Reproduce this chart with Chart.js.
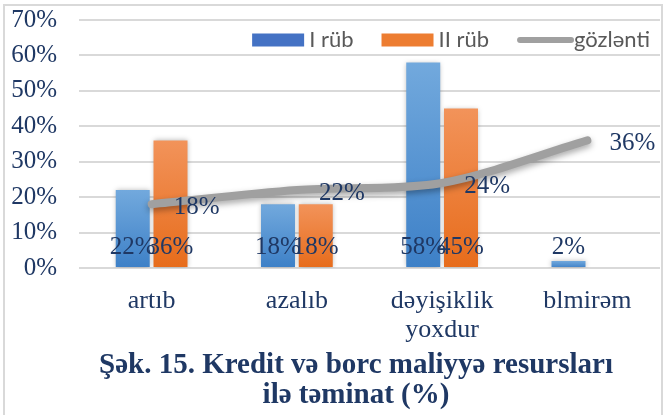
<!DOCTYPE html>
<html>
<head>
<meta charset="utf-8">
<script src="https://cdn.jsdelivr.net/npm/chart.js@4.4.1/dist/chart.umd.min.js"></script>
<style>
  html, body { margin: 0; padding: 0; background: #fff; }
  #wrap { position: relative; width: 670px; height: 415px; overflow: hidden; }
  #frame { position: absolute; left: 3px; top: 4px; width: 660px; height: 440px; border: 2px solid #d9d9d9; box-sizing: border-box; }
  #chart { position: absolute; left: 0; top: 0; }
  #title { position: absolute; left: 40px; width: 632px; top: 348px; text-align: center;
           font: bold 29px "Liberation Serif", serif; line-height: 30px; color: #1f3864; }
</style>
</head>
<body>
<div id="wrap">
  <div id="frame"></div>
  <canvas id="chart" width="670" height="350"></canvas>
  <div id="title">Şək. 15. Kredit və borc maliyyə resursları<br>ilə təminat (%)</div>
</div>
<script>
// data
const categories = ['artıb', 'azalıb', ['dəyişiklik', 'yoxdur'], 'blmirəm'];
const seriesNames = ['I rüb', 'II rüb', 'gözlənti'];
const q1Values = [22, 18, 58, 2];
const q2Values = [36, 18, 45, null];
const expectedValues = [18, 22, 24, 36];
const yMax = 70;
const yStep = 10;

const navy = '#1f3864';
const serif = '"Liberation Serif", serif';

// vertical gradient for every bar, lighter at the top
function barGradient(top, bottom) {
  return (c) => {
    const chart = c.chart;
    const y = chart.scales.y;
    if (!chart.chartArea || !y || c.raw == null) return bottom;
    const g = chart.ctx.createLinearGradient(0, y.getPixelForValue(c.raw), 0, y.getPixelForValue(0));
    g.addColorStop(0, top);
    g.addColorStop(1, bottom);
    return g;
  };
}

// soft shadow behind bars and the line
const shadowPlugin = {
  id: 'softShadow',
  beforeDatasetDraw(chart, args) {
    const ctx = chart.ctx;
    const isLine = chart.data.datasets[args.index].type === 'line';
    ctx.save();
    ctx.shadowColor = isLine ? 'rgba(0,0,0,0.35)' : 'rgba(0,0,0,0.28)';
    ctx.shadowBlur = isLine ? 6 : 5;
    ctx.shadowOffsetY = isLine ? 3 : 0;
  },
  afterDatasetDraw(chart) {
    chart.ctx.restore();
  }
};

// value labels: bars near the base, line points to the right
const labelPlugin = {
  id: 'valueLabels',
  afterDatasetsDraw(chart) {
    const ctx = chart.ctx;
    const y = chart.scales.y;
    ctx.save();
    ctx.font = '25px ' + serif;
    ctx.fillStyle = navy;
    ctx.textBaseline = 'middle';
    chart.data.datasets.forEach((ds, i) => {
      chart.getDatasetMeta(i).data.forEach((el, j) => {
        const v = ds.data[j];
        if (v == null) return;
        if (ds.type === 'line') {
          ctx.textAlign = 'left';
          ctx.fillText(v + '%', el.x + 22, el.y + 3);
        } else {
          ctx.textAlign = 'center';
          ctx.fillText(v + '%', el.x, y.getPixelForValue(0) - 21);
        }
      });
    });
    ctx.restore();
  }
};

// legend drawn inside the plot, top right
const legendPlugin = {
  id: 'innerLegend',
  afterDraw(chart) {
    const ctx = chart.ctx;
    const area = chart.chartArea;
    const symW = 52, textGap = 5, itemGap = 28;
    ctx.save();
    ctx.font = '22px Lato, sans-serif';
    const widths = chart.data.datasets.map(ds => ctx.measureText(ds.label).width);
    const total = widths.reduce((s, w) => s + symW + textGap + w, 0) + itemGap * (widths.length - 1);
    let x = area.right - 10 - total;
    const yc = area.top + 20;
    ctx.textBaseline = 'middle';
    ctx.textAlign = 'left';
    chart.data.datasets.forEach((ds, i) => {
      if (ds.type === 'line') {
        ctx.strokeStyle = ds.borderColor;
        ctx.lineWidth = 6;
        ctx.lineCap = 'round';
        ctx.beginPath();
        ctx.moveTo(x + 3, yc);
        ctx.lineTo(x + symW + 2, yc);
        ctx.stroke();
      } else {
        ctx.fillStyle = ds.borderColor;
        ctx.fillRect(x, yc - 6.5, symW, 13);
      }
      x += symW + textGap;
      ctx.fillStyle = '#595959';
      ctx.fillText(ds.label, x, yc);
      x += widths[i] + itemGap;
    });
    ctx.restore();
  }
};

new Chart(document.getElementById('chart'), {
  type: 'bar',
  data: {
    labels: categories,
    datasets: [
      {
        label: seriesNames[0],
        data: q1Values,
        order: 1,
        backgroundColor: barGradient('#72a9dd', '#3d80c7'),
        borderColor: '#4472c4',
        borderWidth: 0,
        barPercentage: 0.9,
        categoryPercentage: 0.52
      },
      {
        label: seriesNames[1],
        data: q2Values,
        order: 1,
        backgroundColor: barGradient('#f2935a', '#e76c1b'),
        borderColor: '#ed7d31',
        borderWidth: 0,
        barPercentage: 0.9,
        categoryPercentage: 0.52
      },
      {
        type: 'line',
        label: seriesNames[2],
        data: expectedValues,
        order: 0,
        borderColor: '#a0a0a0',
        borderWidth: 8,
        borderCapStyle: 'round',
        tension: 0.3,
        pointRadius: 0,
        fill: false
      }
    ]
  },
  options: {
    responsive: false,
    animation: false,
    layout: { padding: { left: 8, right: 10, top: 20, bottom: 0 } },
    plugins: {
      legend: { display: false },
      tooltip: { enabled: false }
    },
    scales: {
      x: {
        grid: { display: false },
        border: { display: false },
        ticks: { color: navy, font: { family: serif, size: 26, lineHeight: 1.1 }, padding: 11, maxRotation: 0 },
        afterFit(axis) { axis.height = 82; }
      },
      y: {
        min: 0,
        max: yMax,
        ticks: { stepSize: yStep, callback: v => v + '%', color: navy, font: { family: serif, size: 25 }, padding: 2 },
        // invisible tick marks keep the labels away from the plot
        grid: { color: '#d9d9d9', lineWidth: 2, drawTicks: true, tickLength: 20, tickColor: 'rgba(0,0,0,0)' },
        border: { display: false },
        afterFit(axis) { axis.width = 71; }
      }
    }
  },
  plugins: [shadowPlugin, labelPlugin, legendPlugin]
});
</script>
</body>
</html>
